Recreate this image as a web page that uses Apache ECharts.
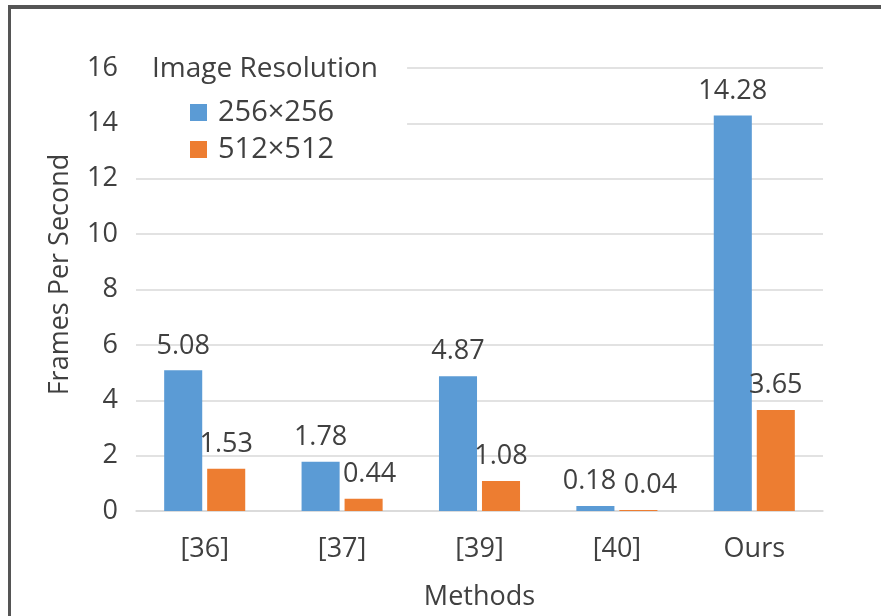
<!DOCTYPE html>
<html>
<head>
<meta charset="utf-8">
<script src="https://cdn.jsdelivr.net/npm/echarts@6/dist/echarts.min.js"></script>
<style>
html,body{margin:0;padding:0;background:#fff;}
#frame{position:absolute;left:8px;top:5px;width:873px;height:611px;border-top:4px solid #555;border-left:3px solid #555;box-sizing:border-box;}
#chart{position:absolute;left:0;top:0;width:881px;height:616px;}
</style>
</head>
<body>
<div id="chart"></div>
<div id="frame"></div>
<script>
const categories = ['[36]', '[37]', '[39]', '[40]', 'Ours'];
const seriesNames = ['256×256', '512×512'];
const fps256 = [5.08, 1.78, 4.87, 0.18, 14.28];
const fps512 = [1.53, 0.44, 1.08, 0.04, 3.65];
const yTicks = { min: 0, max: 16, interval: 2 };

const FONT = '"Open Sans", "Noto Sans", sans-serif';
const TXT = '#404040';
const chart = echarts.init(document.getElementById('chart'));
const labelCfg = { show: true, position: 'top', distance: 11, color: TXT, fontSize: 27, fontFamily: FONT };
// small horizontal nudges for crowded labels (as in the original chart)
const nudge256 = [0, 0, 0, -6, 0];
const nudge512 = [0, 6, 0, 12, 0];
const withNudge = (vals, nudge) => vals.map((v, i) => nudge[i] ? { value: v, label: { offset: [nudge[i], 0] } } : v);

chart.setOption({
  animation: false,
  backgroundColor: '#fff',
  textStyle: { fontFamily: FONT },
  grid: { left: 136, right: 58, top: 68, bottom: 104 },
  title: {
    text: 'Image Resolution', left: 142, top: 55,
    padding: [0, 10, 0, 10],
    textStyle: { fontSize: 28, fontWeight: 'normal', color: TXT, fontFamily: FONT }
  },
  legend: {
    orient: 'vertical', left: 136, top: 58,
    padding: [40, 73, 10, 54],
    backgroundColor: '#fff',
    itemWidth: 17, itemHeight: 17, itemGap: 8,
    icon: 'rect',
    data: seriesNames,
    textStyle: { fontSize: 29, color: TXT, fontFamily: FONT, padding: [0, 0, 0, 6] }
  },
  xAxis: {
    type: 'category', data: categories,
    name: 'Methods', nameLocation: 'middle', nameGap: 73,
    nameTextStyle: { fontSize: 27, color: TXT, fontFamily: FONT },
    axisLine: { show: true, lineStyle: { color: '#d9d9d9', width: 1.5 } },
    axisTick: { show: false },
    axisLabel: { fontSize: 27, color: TXT, fontFamily: FONT, margin: 25 }
  },
  yAxis: {
    type: 'value', min: yTicks.min, max: yTicks.max, interval: yTicks.interval,
    name: 'Frames Per Second', nameLocation: 'middle', nameGap: 62,
    nameTextStyle: { fontSize: 27, color: TXT, fontFamily: FONT, padding: [0, 0, 0, 30] },
    axisLine: { show: false }, axisTick: { show: false },
    axisLabel: { fontSize: 27, color: TXT, fontFamily: FONT, margin: 18 },
    splitLine: { lineStyle: { color: '#d9d9d9', width: 1.5 } }
  },
  series: [
    { name: seriesNames[0], type: 'bar', data: withNudge(fps256, nudge256), barGap: '13%', barCategoryGap: '41%',
      itemStyle: { color: '#5B9BD5' }, label: labelCfg },
    { name: seriesNames[1], type: 'bar', data: withNudge(fps512, nudge512), barGap: '13%', barCategoryGap: '41%',
      itemStyle: { color: '#ED7D31' }, label: labelCfg }
  ]
});
</script>
</body>
</html>
